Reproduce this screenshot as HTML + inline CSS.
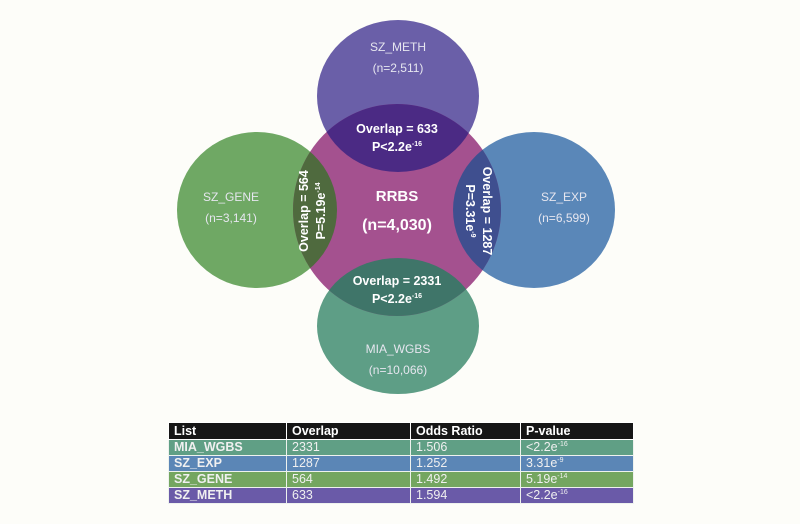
<!DOCTYPE html>
<html><head><style>
body{margin:0;background:#fdfdf9;width:800px;height:524px;overflow:hidden;font-family:"Liberation Sans",Arial,sans-serif}
svg{position:absolute;left:0;top:0}
table{position:absolute;left:168px;top:422px;width:466px;border-collapse:collapse;font-size:12.5px;color:#f0f0f0}
td{height:15px;padding:0 0 0 5px;border:1.5px solid #eef2ee;line-height:15px}
td:first-child{font-weight:bold}
tr.h td{background:#161616;color:#fff;font-weight:bold;height:16px;border-color:#fff}
tr.a td{background:#609f85}tr.b td{background:#5b86b6}tr.c td{background:#74a660}tr.d td{background:#6a5aa8}
sup{font-size:7px;vertical-align:5px;line-height:0}
</style></head><body>
<svg width="800" height="420" font-family="Liberation Sans, Arial, sans-serif">
<defs><clipPath id="r"><ellipse cx="397" cy="210" rx="104" ry="106"/></clipPath></defs>
<ellipse cx="398" cy="96" rx="81" ry="76" fill="#6a5fa8"/>
<ellipse cx="257" cy="210" rx="80" ry="78" fill="#6fa864"/>
<ellipse cx="534" cy="210" rx="81" ry="78" fill="#5a87b8"/>
<ellipse cx="398" cy="326" rx="81" ry="68" fill="#5e9e86"/>
<ellipse cx="397" cy="210" rx="104" ry="106" fill="#a4518f"/>
<g clip-path="url(#r)">
<ellipse cx="398" cy="96" rx="81" ry="76" fill="#4b2a84"/>
<ellipse cx="257" cy="210" rx="80" ry="78" fill="#4f6a3e"/>
<ellipse cx="534" cy="210" rx="81" ry="78" fill="#3f4f8f"/>
<ellipse cx="398" cy="326" rx="81" ry="68" fill="#3f7569"/>
</g>
<g fill="#e6e6ef" font-size="12" text-anchor="middle">
<text x="398" y="51">SZ_METH</text><text x="398" y="72">(n=2,511)</text>
<text x="231" y="201">SZ_GENE</text><text x="231" y="222">(n=3,141)</text>
<text x="564" y="201">SZ_EXP</text><text x="564" y="222">(n=6,599)</text>
<text x="398" y="353">MIA_WGBS</text><text x="398" y="374">(n=10,066)</text>
</g>
<g fill="#fff" font-weight="bold" text-anchor="middle">
<text x="397" y="201" font-size="15">RRBS</text>
<text x="397" y="230" font-size="16">(n=4,030)</text>
<text x="397" y="133" font-size="12.5">Overlap = 633</text>
<text x="397" y="151" font-size="12.5">P&lt;2.2e<tspan font-size="7" dy="-5">-16</tspan></text>
<text x="397" y="285" font-size="12.5">Overlap = 2331</text>
<text x="397" y="303" font-size="12.5">P&lt;2.2e<tspan font-size="7" dy="-5">-16</tspan></text>
<g transform="translate(308,211) rotate(-90)"><text x="0" y="0" font-size="12.5">Overlap = 564</text>
<text x="0" y="17" font-size="12.5">P=5.19e<tspan font-size="7" dy="-5">-14</tspan></text></g>
<g transform="translate(483,211) rotate(90)"><text x="0" y="0" font-size="12.5">Overlap = 1287</text>
<text x="0" y="17" font-size="12.5">P=3.31e<tspan font-size="7" dy="-5">-9</tspan></text></g>
</g>
</svg>
<table>
<tr class="h"><td style="width:112px">List</td><td style="width:118px">Overlap</td><td style="width:104px">Odds Ratio</td><td>P-value</td></tr>
<tr class="a"><td>MIA_WGBS</td><td>2331</td><td>1.506</td><td>&lt;2.2e<sup>-16</sup></td></tr>
<tr class="b"><td>SZ_EXP</td><td>1287</td><td>1.252</td><td>3.31e<sup>-9</sup></td></tr>
<tr class="c"><td>SZ_GENE</td><td>564</td><td>1.492</td><td>5.19e<sup>-14</sup></td></tr>
<tr class="d"><td>SZ_METH</td><td>633</td><td>1.594</td><td>&lt;2.2e<sup>-16</sup></td></tr>
</table>
</body></html>
